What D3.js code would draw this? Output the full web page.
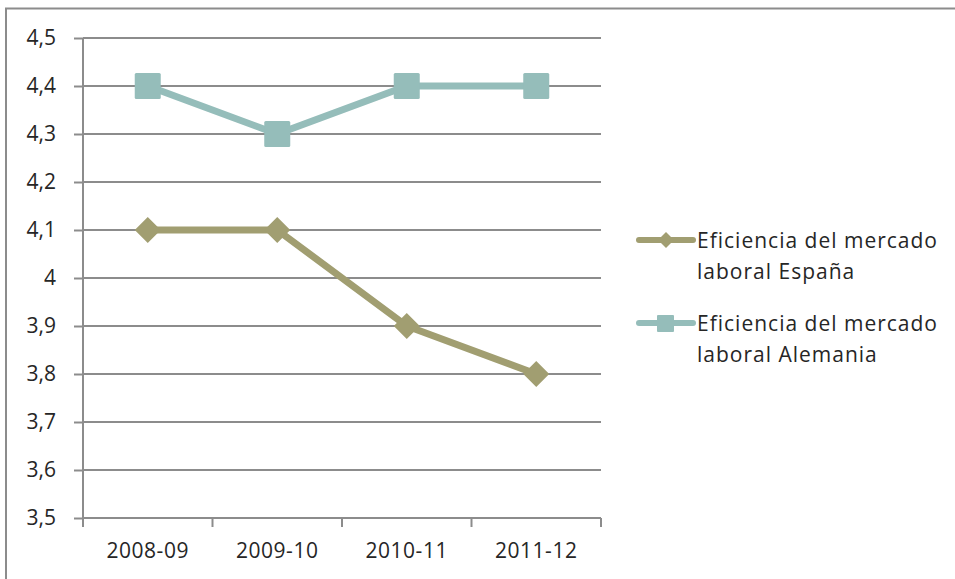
<!DOCTYPE html>
<html><head><meta charset="utf-8">
<script src="https://cdn.jsdelivr.net/npm/d3@7"></script>
<style>body{margin:0;background:#fff}svg{display:block}</style>
</head><body>
<script>
const categories = ["2008-09", "2009-10", "2010-11", "2011-12"];
const spainValues = [4.1, 4.1, 3.9, 3.8];
const germanyValues = [4.4, 4.3, 4.4, 4.4];
const seriesNames = ["Eficiencia del mercado laboral España", "Eficiencia del mercado laboral Alemania"];
const yTicks = [3.5, 3.6, 3.7, 3.8, 3.9, 4.0, 4.1, 4.2, 4.3, 4.4, 4.5];

const W = 955, H = 579;
const font = "'Open Sans', sans-serif";
const svg = d3.select("body").append("svg").attr("width", W).attr("height", H);

svg.append("rect").attr("x", 6).attr("y", 8.5).attr("width", 1000).attr("height", 600)
  .attr("fill", "none").attr("stroke", "#8c8c8c").attr("stroke-width", 2);

const x0 = 83, x1 = 601, yTop = 38, yBot = 518;
const x = d3.scaleBand().domain(categories).range([x0, x1]);
const y = d3.scaleLinear().domain([3.5, 4.5]).range([yBot, yTop]);

// gridlines
svg.append("g").selectAll("line").data(yTicks.slice(1)).join("line")
  .attr("x1", x0).attr("x2", x1).attr("y1", d => y(d)).attr("y2", d => y(d))
  .attr("stroke", "#8c8c8c").attr("stroke-width", 2);

const fmt = d => d3.format(".1~f")(d).replace(".", ",");
const yAxis = svg.append("g").attr("transform", `translate(${x0},0)`)
  .call(d3.axisLeft(y).tickValues(yTicks).tickFormat(fmt).tickSize(9).tickPadding(18));
yAxis.select(".domain").attr("stroke", "#8c8c8c").attr("stroke-width", 2).attr("d", `M0,${yTop}V${yBot}`);
yAxis.selectAll(".tick line").attr("stroke", "#8c8c8c").attr("stroke-width", 2);
yAxis.selectAll("text").attr("font-family", font).attr("font-size", 21).attr("fill", "#262626");

const xAxis = svg.append("g").attr("transform", `translate(0,${yBot})`)
  .call(d3.axisBottom(x).tickSize(0).tickPadding(25));
xAxis.select(".domain").attr("stroke", "#8c8c8c").attr("stroke-width", 2).attr("d", `M${x0},0H${x1}`);
xAxis.selectAll("text").attr("font-family", font).attr("font-size", 21).attr("fill", "#262626")
  .attr("letter-spacing", 0.5);
// category boundary ticks
svg.append("g").selectAll("line").data(categories.concat(["end"])).join("line")
  .attr("x1", (d, i) => i < categories.length ? x(d) : x1)
  .attr("x2", (d, i) => i < categories.length ? x(d) : x1)
  .attr("y1", yBot).attr("y2", yBot + 9)
  .attr("stroke", "#8c8c8c").attr("stroke-width", 2);

const cx = d => x(d) + x.bandwidth() / 2;
const spainColor = "#a19e71", germanyColor = "#95bdba";
const line = d3.line().x(d => cx(d[0])).y(d => y(d[1]));

function drawSeries(vals, color, shape) {
  const pts = categories.map((c, i) => [c, vals[i]]);
  svg.append("path").datum(pts).attr("d", line).attr("fill", "none")
    .attr("stroke", color).attr("stroke-width", 7).attr("stroke-linejoin", "round");
  const g = svg.append("g");
  pts.forEach(p => {
    if (shape === "square") {
      g.append("rect").attr("x", cx(p[0]) - 13).attr("y", y(p[1]) - 13).attr("width", 26).attr("height", 26)
        .attr("rx", 1.5).attr("fill", color);
    } else {
      g.append("path").attr("transform", `translate(${cx(p[0])},${y(p[1])})`)
        .attr("d", "M0,-13L13,0L0,13L-13,0Z").attr("fill", color);
    }
  });
}
drawSeries(spainValues, spainColor, "diamond");
drawSeries(germanyValues, germanyColor, "square");

// legend
const legend = [
  {name: seriesNames[0], color: spainColor, shape: "diamond", y: 240},
  {name: seriesNames[1], color: germanyColor, shape: "square", y: 323}
];
legend.forEach(l => {
  svg.append("line").attr("x1", 639).attr("x2", 693).attr("y1", l.y).attr("y2", l.y)
    .attr("stroke", l.color).attr("stroke-width", 6).attr("stroke-linecap", "round");
  if (l.shape === "square") {
    svg.append("rect").attr("x", 657).attr("y", l.y - 8).attr("width", 17).attr("height", 17).attr("rx", 1).attr("fill", l.color);
  } else {
    svg.append("path").attr("transform", `translate(666,${l.y})`).attr("d", "M0,-8L8,0L0,8L-8,0Z").attr("fill", l.color);
  }
  const words = l.name.split(" ");
  const t = svg.append("text").attr("font-family", font).attr("font-size", 21).attr("fill", "#262626")
    .attr("letter-spacing", 1);
  t.append("tspan").attr("x", 697).attr("y", l.y + 8).text(words.slice(0, 3).join(" "));
  t.append("tspan").attr("x", 697).attr("y", l.y + 39).text(words.slice(3).join(" "));
});
</script>
</body></html>
